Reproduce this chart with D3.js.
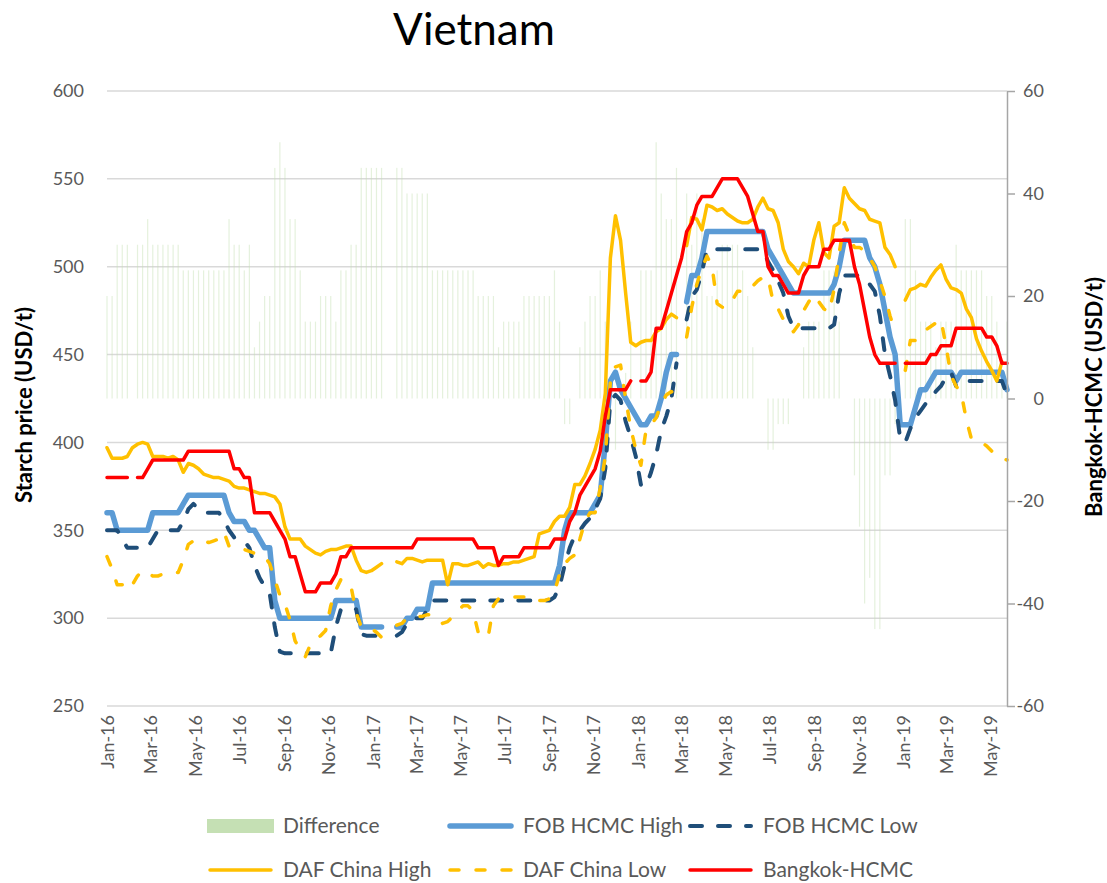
<!DOCTYPE html>
<html>
<head>
<meta charset="utf-8">
<script src="https://cdn.jsdelivr.net/npm/d3@7/dist/d3.min.js"></script>
<style>
  body { margin: 0; background: #fff; }
  svg text { font-family: Lato, "Noto Sans", sans-serif; }
</style>
</head>
<body>
<div id="chart"></div>
<script>
(function () {
	'use strict';

	// weekly series, first week = 1 Jan 2016
	var firstWeek = '2016-01-01';

	var fobHigh = [
		360, 360, 350, 350, 350, 350, 350, 350, 350, 360,
		360, 360, 360, 360, 360, 365, 370, 370, 370, 370,
		370, 370, 370, 370, 360, 355, 355, 355, 350, 350,
		345, 340, 340, 310, 300, 300, 300, 300, 300, 300,
		300, 300, 300, 300, 300, 310, 310, 310, 310, 310,
		295, 295, 295, 295, 295, null, null, 295, 295, 300,
		300, 305, 305, 305, 320, 320, 320, 320, 320, 320,
		320, 320, 320, 320, 320, 320, 320, 320, 320, 320,
		320, 320, 320, 320, 320, 320, 320, 320, 320, 330,
		350, 360, 360, 360, 360, 360, 365, 370, 400, 435,
		440, 430, 425, 420, 415, 410, 410, 415, 415, 425,
		440, 450, 450, null, 480, 495, 495, 505, 520, 520,
		520, 520, 520, 520, 520, 520, 520, 520, 520, 520,
		510, 505, 500, 495, 490, 485, 485, 485, 485, 485,
		485, 485, 485, 490, 500, 515, 515, 515, 515, 515,
		505, 500, 490, 475, 460, 450, 410, 410, 410, 420,
		430, 430, 435, 440, 440, 440, 440, 435, 440, 440,
		440, 440, 440, 440, 440, 440, 440, 430
	];

	var fobLow = [
		350, 350, 350, 345, 340, 340, 340, 340, 340, 345,
		350, 350, 350, 350, 350, 355, 362, 365, 362, 360,
		360, 360, 360, 356, 350, 346, 345, 344, 340, 330,
		323, 318, 314, 295, 281, 280, 280, 280, 280, 280,
		280, 280, 280, 280, 280, 295, 305, 305, 305, 305,
		291, 290, 290, 290, 290, null, null, 290, 292, 297,
		300, 300, 300, 305, 310, 310, 310, 310, 310, 310,
		310, 310, 310, 310, 310, 310, 310, 310, 310, 310,
		310, 310, 310, 310, 310, 310, 310, 310, 312, 318,
		330, 340, 347, 350, 354, 357, 362, 368, 385, 424,
		427, 424, 412, 403, 392, 376, 375, 383, 393, 407,
		415, 425, 445, null, 470, 483, 487, 497, 510, 510,
		510, 510, 510, 510, 510, 510, 510, 510, 510, 510,
		503, 498, 492, 485, 472, 465, 465, 465, 465, 465,
		465, 465, 465, 467, 485, 495, 495, 495, 495, 493,
		490, 486, 472, 450, 438, 424, 402, 400, 408, 414,
		418, 422, 425, 429, 432, 437, 440, 432, 435, 435,
		435, 435, 435, 435, 435, 435, 435, 427
	];

	var dafHigh = [
		397, 391, 391, 391, 392, 397, 399, 400, 399, 392,
		392, 392, 391, 392, 390, 383, 388, 387, 385, 382,
		381, 380, 380, 379, 378, 375, 374, 374, 373, 372,
		371, 371, 370, 369, 365, 352, 345, 345, 345, 341,
		339, 337, 336, 338, 339, 339, 340, 341, 341, 333,
		327, 326, 327, 329, 331, null, null, 332, 331, 334,
		334, 333, 332, 333, 333, 333, 333, 319, 331, 331,
		330, 330, 331, 332, 329, 331, 330, 330, 331, 331,
		332, 332, 333, 334, 335, 348, 349, 350, 355, 358,
		358, 363, 376, 376, 381, 388, 396, 407, 428, 505,
		529, 515, 485, 457, 455, 457, 458, 458, 463, 465,
		470, 473, 471, null, 512, 528, 527, 521, 535, 534,
		532, 533, 530, 528, 526, 525, 525, 527, 534, 539,
		533, 532, 525, 510, 503, 500, 496, 502, 500, 515,
		525, 508, 505, 523, 525, 545, 539, 536, 533, 532,
		527, 526, 525, 511, 507, 500, null, 481, 487, 488,
		490, 489, 494, 498, 501, 493, 488, 487, 485, 476,
		471, 459, 452, 446, 441, 435, 446, null
	];

	var dafLow = [
		335, 328, 319, 319, 322, 319, 324, 327, 326, 324,
		324, 325, 326, 326, 326, 333, 342, 344, 345, 344,
		343, 344, 345, 349, 341, 340, 339, 339, 338, 337,
		336, 335, 331, 322, 313, 308, 299, 287, 282, 278,
		285, 288, 290, 293, 307, 316, 322, 321, 318, 303,
		295, 295, 294, 292, 289, null, null, 296, 297, 300,
		300, 301, 301, 302, 302, 300, 297, 298, 301, 304,
		307, 307, 304, 292, 289, 290, 307, 311, 312, 312,
		312, 312, 312, 312, 312, 310, 310, 311, 315, 325,
		331, 334, 336, 345, 355, 360, 360, 374, 392, 435,
		443, 444, 425, 408, 396, 387, 407, 410, 414, 422,
		427, 429, 426, null, 460, 477, 490, 499, 506, 500,
		479, 477, 477, 481, 486, 486, 486, 489, 492, 494,
		494, 480, 476, 470, 466, 463, 467, 475, 480, 484,
		480, 476, 474, 487, 508, 525, 518, 511, 511, 509,
		505, 500, 492, 483, 472, 463, null, 441, 458, 458,
		461, 464, 466, 468, 470, 455, 438, 432, 428, 413,
		402, 401, 400, 398, 395, 393, 391, 390
	];

	var bangkokHcmc = [
		380, 380, 380, 380, 380, null, 380, 380, 385, 390,
		390, 390, 390, 390, 390, 390, 395, 395, 395, 395,
		395, 395, 395, 395, 395, 385, 385, 380, 380, 360,
		360, 360, 360, 355, 350, 345, 335, 335, 325, 315,
		315, 315, 320, 320, 320, 325, 335, 335, 340, 340,
		340, 340, 340, 340, 340, 340, 340, 340, 340, 340,
		340, 345, 345, 345, 345, 345, 345, 345, 345, 345,
		345, 345, 345, 340, 340, 340, 340, 330, 335, 335,
		335, 335, 340, 340, 340, 340, 340, 340, 345, 345,
		345, 355, 360, 370, 375, 380, 385, 395, 415, 430,
		430, 430, 430, 435, null, 435, 435, 440, 465, 465,
		475, 485, 495, 505, 520, 525, 535, 540, 540, 540,
		545, 550, 550, 550, 550, 545, 540, 530, 520, 520,
		500, 495, 495, 490, 485, 485, 485, 495, 500, 500,
		500, 510, 510, 515, 515, 515, 515, 500, 490, 475,
		460, 450, 445, 445, 445, 445, null, 445, 445, 445,
		445, 445, 450, 450, 455, 455, 455, 465, 465, 465,
		465, 465, 465, 460, 460, 455, 445, 445
	];

	var difference = [
		20, 20, 30, 30, 30, null, 30, 30, 35, 30,
		30, 30, 30, 30, 30, 25, 25, 25, 25, 25,
		25, 25, 25, 25, 35, 30, 30, 25, 30, 10,
		15, 20, 20, 45, 50, 45, 35, 35, 25, 15,
		15, 15, 20, 20, 20, 15, 25, 25, 30, 30,
		45, 45, 45, 45, 45, null, null, 45, 45, 40,
		40, 40, 40, 40, 25, 25, 25, 25, 25, 25,
		25, 25, 25, 20, 20, 20, 20, 10, 15, 15,
		15, 15, 20, 20, 20, 20, 20, 20, 25, 15,
		-5, -5, 0, 10, 15, 20, 20, 25, 15, -5,
		-10, 0, 5, 15, null, 25, 25, 25, 50, 40,
		35, 35, 45, null, 40, 30, 40, 35, 20, 20,
		25, 30, 30, 30, 30, 25, 20, 10, 0, 0,
		-10, -10, -5, -5, -5, 0, 0, 10, 15, 15,
		15, 25, 25, 25, 15, 0, 0, -15, -25, -40,
		-35, -45, -45, -15, -15, -5, null, 35, 35, 25,
		15, 15, 15, 10, 15, 15, 15, 30, 25, 25,
		25, 25, 25, 20, 20, 15, 5, 15
	];

	var monthLabels = ['Jan-16', 'Mar-16', 'May-16', 'Jul-16', 'Sep-16', 'Nov-16',
		'Jan-17', 'Mar-17', 'May-17', 'Jul-17', 'Sep-17', 'Nov-17',
		'Jan-18', 'Mar-18', 'May-18', 'Jul-18', 'Sep-18', 'Nov-18',
		'Jan-19', 'Mar-19', 'May-19'];
	var leftTicks = [250, 300, 350, 400, 450, 500, 550, 600];
	var rightTicks = [-60, -40, -20, 0, 20, 40, 60];

	var W = 1107, H = 883;
	var left = 107, right = 1007, top = 91, bottom = 706;

	var start = d3.timeParse('%Y-%m-%d')(firstWeek);
	var dates = fobHigh.map(function (d, i) { return d3.timeDay.offset(start, i * 7); });

	var svg = d3.select('#chart').append('svg')
		.attr('width', W)
		.attr('height', H);

	var x = d3.scaleTime()
		.domain([dates[0], dates[dates.length - 1]])
		.range([left, right]);
	var yL = d3.scaleLinear().domain([250, 600]).range([bottom, top]);
	var yR = d3.scaleLinear().domain([-60, 60]).range([bottom, top]);

	// gridlines
	svg.append('g').selectAll('line')
		.data(leftTicks)
		.enter().append('line')
		.attr('x1', left).attr('x2', right)
		.attr('y1', function (d) { return yL(d); })
		.attr('y2', function (d) { return yL(d); })
		.attr('stroke', '#d9d9d9')
		.attr('stroke-width', 1.5);

	// difference columns
	svg.append('g').selectAll('rect')
		.data(difference.map(function (v, i) { return { d: dates[i], v: v }; })
			.filter(function (p) { return p.v !== null && p.v !== 0; }))
		.enter().append('rect')
		.attr('x', function (p) { return x(p.d) - 0.6; })
		.attr('width', 1.2)
		.attr('y', function (p) { return Math.min(yR(p.v), yR(0)); })
		.attr('height', function (p) { return Math.abs(yR(p.v) - yR(0)); })
		.attr('fill', '#c5e0b4')
		.attr('opacity', 0.45);

	var series = [
		{ name: 'FOB HCMC High', values: fobHigh, color: '#5b9bd5', width: 5.5, dash: null },
		{ name: 'FOB HCMC Low', values: fobLow, color: '#1f4e79', width: 4, dash: '12,16' },
		{ name: 'DAF China High', values: dafHigh, color: '#ffc000', width: 3.5, dash: null },
		{ name: 'DAF China Low', values: dafLow, color: '#ffc000', width: 3.5, dash: '9,17' },
		{ name: 'Bangkok-HCMC', values: bangkokHcmc, color: '#ff0000', width: 3.5, dash: null }
	];

	var line = d3.line()
		.defined(function (p) { return p.v !== null; })
		.x(function (p) { return x(p.d); })
		.y(function (p) { return yL(p.v); });

	series.forEach(function (s) {
		svg.append('path')
			.datum(s.values.map(function (v, i) { return { d: dates[i], v: v }; }))
			.attr('d', line)
			.attr('fill', 'none')
			.attr('stroke', s.color)
			.attr('stroke-width', s.width)
			.attr('stroke-linejoin', 'round')
			.attr('stroke-linecap', 'round')
			.attr('stroke-dasharray', s.dash);
	});

	// axes
	var gL = svg.append('g')
		.attr('transform', 'translate(' + left + ',0)')
		.call(d3.axisLeft(yL).tickValues(leftTicks).tickSize(0).tickPadding(23));
	gL.select('.domain').remove();

	var gR = svg.append('g')
		.attr('transform', 'translate(' + right + ',0)')
		.call(d3.axisRight(yR).tickValues(rightTicks).tickSize(8).tickSizeOuter(0)
			.tickFormat(function (d) { return String(d); }));
	gR.select('.domain').attr('stroke', '#a6a6a6').attr('stroke-width', 1.5);
	gR.selectAll('.tick line').attr('stroke', '#a6a6a6').attr('stroke-width', 1.5);
	gR.selectAll('.tick text').attr('x', 37).attr('text-anchor', 'end');

	var gB = svg.append('g')
		.attr('transform', 'translate(0,' + bottom + ')')
		.call(d3.axisBottom(x)
			.tickValues(monthLabels.map(d3.timeParse('%b-%y')))
			.tickSize(0)
			.tickFormat(d3.timeFormat('%b-%y')));
	gB.select('.domain').remove();
	gB.selectAll('.tick text')
		.attr('transform', 'rotate(-90)')
		.attr('text-anchor', 'end')
		.attr('x', -9)
		.attr('y', 0)
		.attr('dy', '0.35em');

	svg.selectAll('.tick text')
		.attr('font-family', 'Lato, sans-serif')
		.attr('font-size', 18)
		.attr('fill', '#595959');

	// titles
	svg.append('text')
		.attr('x', 474).attr('y', 45)
		.attr('text-anchor', 'middle')
		.attr('font-size', 44)
		.attr('fill', '#000')
		.text('Vietnam');

	svg.append('text')
		.attr('transform', 'translate(32,405) rotate(-90)')
		.attr('text-anchor', 'middle')
		.attr('font-size', 22)
		.attr('font-weight', 'bold')
		.text('Starch price (USD/t)');

	svg.append('text')
		.attr('transform', 'translate(1102,397) rotate(-90)')
		.attr('text-anchor', 'middle')
		.attr('font-size', 22)
		.attr('font-weight', 'bold')
		.text('Bangkok-HCMC (USD/t)');

	// legend
	var legend = [
		{ name: 'Difference', x: 207, y: 826 },
		{ name: 'FOB HCMC High', x: 447, y: 826 },
		{ name: 'FOB HCMC Low', x: 687, y: 826 },
		{ name: 'DAF China High', x: 207, y: 870 },
		{ name: 'DAF China Low', x: 447, y: 870 },
		{ name: 'Bangkok-HCMC', x: 687, y: 870 }
	];

	legend.forEach(function (item) {
		var s = series.filter(function (d) { return d.name === item.name; })[0];
		if (s) {
			svg.append('line')
				.attr('x1', item.x + 3).attr('x2', item.x + 64)
				.attr('y1', item.y).attr('y2', item.y)
				.attr('stroke', s.color)
				.attr('stroke-width', s.width)
				.attr('stroke-linecap', 'round')
				.attr('stroke-dasharray', s.dash);
		} else {
			svg.append('rect')
				.attr('x', item.x).attr('y', item.y - 7)
				.attr('width', 67).attr('height', 14)
				.attr('fill', '#c5e0b4');
		}
		svg.append('text')
			.attr('x', item.x + 76).attr('y', item.y)
			.attr('dy', '0.35em')
			.attr('font-size', 21)
			.attr('fill', '#595959')
			.text(item.name);
	});
})();
</script>
</body>
</html>
